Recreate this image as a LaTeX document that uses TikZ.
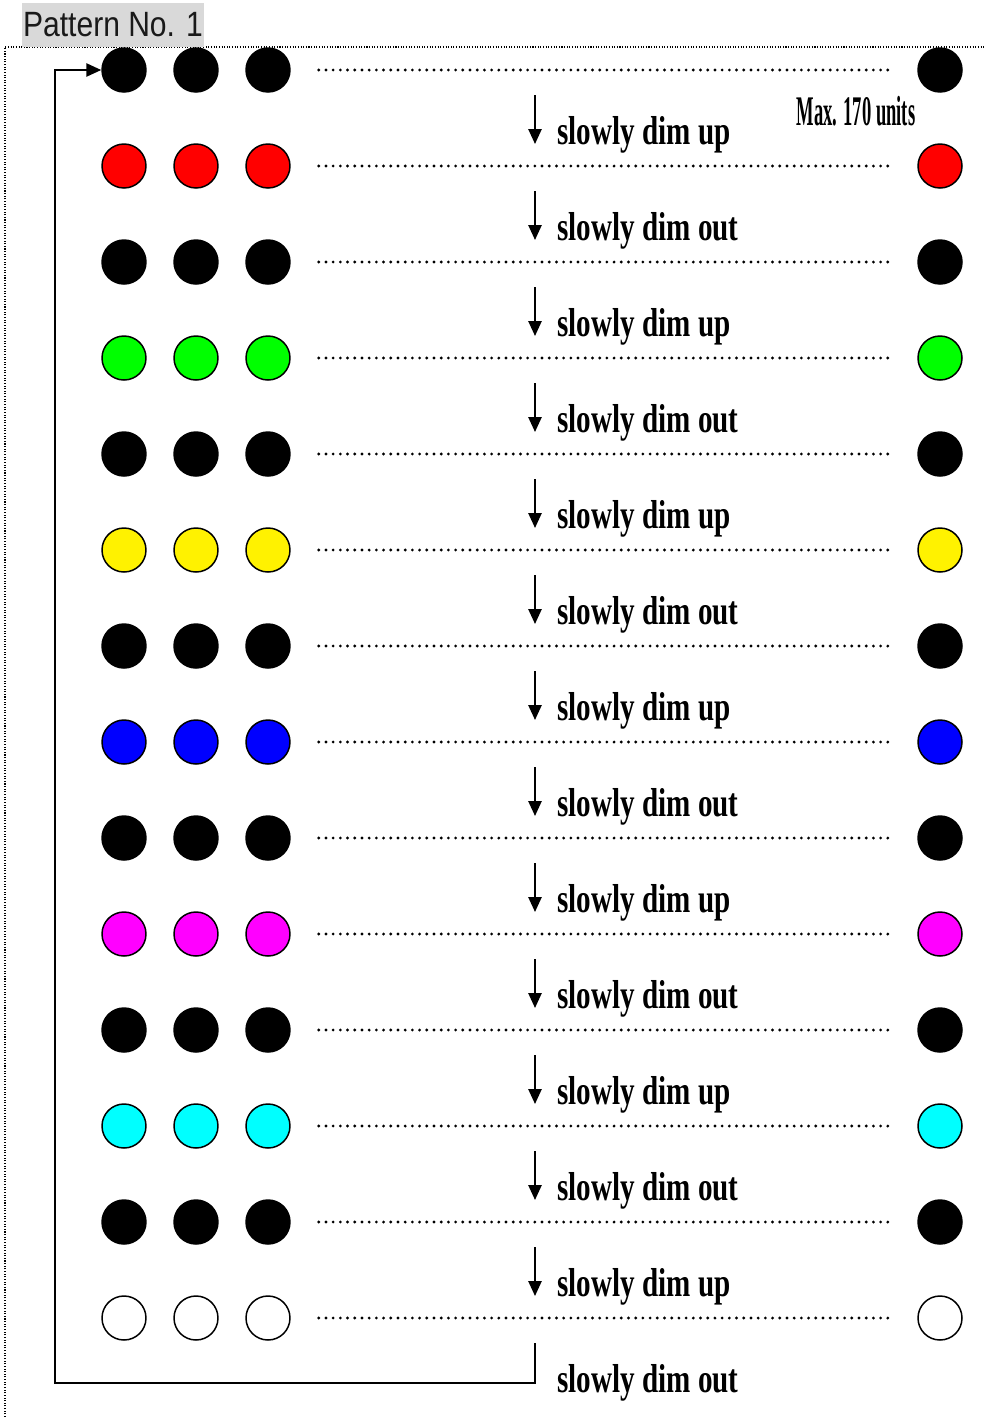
\documentclass[tikz,border=0pt]{standalone}
\usepackage{fontspec}
\setmainfont{Liberation Serif}
\newfontfamily\arialfont{Liberation Sans}
\usetikzlibrary{arrows.meta}

\definecolor{lampMagenta}{RGB}{255,0,255}
\definecolor{lampCyan}{RGB}{0,255,255}
\definecolor{lampGreen}{RGB}{0,255,0}
\newcommand{\dimlabel}[1]{\scalebox{0.72}[1]{\bfseries\fontsize{23}{23}\selectfont #1}}

\begin{document}
\begin{tikzpicture}[
    x=0.02cm, y=-0.02cm,
    lamp/.style={circle, minimum size=0.88cm, inner sep=0pt, draw=black, line width=0.85pt},
    level/.style={line width=1.8pt, line cap=round, dash pattern=on 0pt off 4.1pt, shorten <=0.56cm, shorten >=0.48cm},
    frame/.style={line width=0.6pt, dash pattern=on 0.6pt off 0.9pt},
    fade/.style={-{Triangle[length=8.5pt, width=7.5pt]}, line width=1.1pt},
    note/.style={anchor=base west, inner sep=0pt}
]
\useasboundingbox (0,0) rectangle (985,1417);

    % Frame and title
    \coordinate (frameTL) at (5,47);
    \coordinate (frameTR) at (985,47);
    \coordinate (frameBL) at (5,1417);
    \draw[frame] (frameBL) -- (frameTL) -- (frameTR);
    \node[fill=black!15, minimum width=3.64cm, minimum height=0.88cm, inner sep=0pt] (title) at (113,25)
        {\scalebox{0.855}[1]{\arialfont\fontsize{20}{20}\selectfont\color{black!90}Pattern No. 1}};
    \node (maxnote) at (856,111) {\scalebox{0.44}[1]{\bfseries\fontsize{24}{24}\selectfont Max. 170 units}};

    % Rows of lamps
    \foreach \col [count=\i] in {black,red,black,lampGreen,black,yellow,black,blue,black,lampMagenta,black,lampCyan,black,white} {
        \pgfmathsetmacro\y{70+(\i-1)*96}
        \node[lamp, fill=\col] (a\i) at (124,\y) {};
        \node[lamp, fill=\col] (b\i) at (196,\y) {};
        \node[lamp, fill=\col] (c\i) at (268,\y) {};
        \node[lamp, fill=\col] (d\i) at (940,\y) {};
        \draw[level] (c\i) -- (d\i);
        \coordinate (t\i) at (535,\y+25);
        \ifnum\i<14
            \coordinate (h\i) at (535,\y+74);
            \draw[fade] (t\i) -- (h\i);
        \fi
        \node[note] (n\i) at (557,\y+74) {\dimlabel{slowly dim \ifodd\i up\else out\fi}};
    }

    % Back to the start
    \coordinate (loop) at (55,1383);
    \draw[fade] (t14) |- (loop) |- (a1.west);

\end{tikzpicture}
\end{document}
